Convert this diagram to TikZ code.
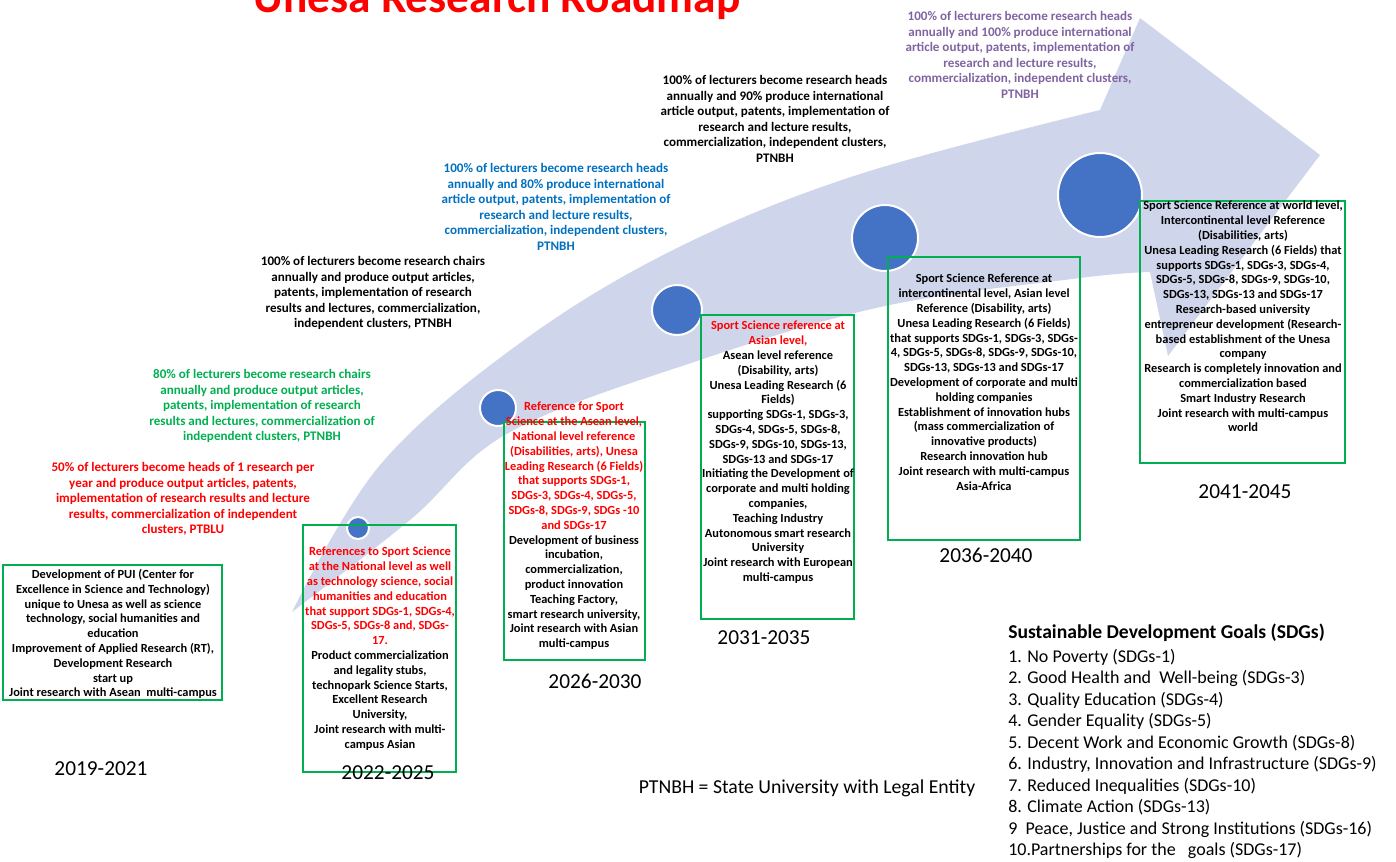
\documentclass[tikz,border=0pt]{standalone}
\usepackage{fontspec}
\setmainfont{Carlito}
\usetikzlibrary{positioning}
\definecolor{arrowfill}{RGB}{207,213,234}
\definecolor{dotblue}{RGB}{68,114,196}
\definecolor{boxgreen}{RGB}{0,176,80}
\definecolor{textred}{RGB}{255,0,0}
\definecolor{textblue}{RGB}{0,112,192}
\definecolor{textpurple}{RGB}{128,100,162}

\begin{document}
\begin{tikzpicture}[x=0.75pt,y=-0.75pt]

        % Setup the styles
        \tikzset{box style/.style={draw=boxgreen, line width=0.8pt},
                 dot style/.style={circle, fill=dotblue, draw=white,
                                   line width=1.5pt, inner sep=0pt},
                 plan style/.style={align=center, inner sep=0pt, anchor=north,
                                    font=\bfseries\fontsize{9.3}{11.1}\selectfont},
                 target style/.style={align=center, inner sep=0pt, anchor=north,
                                      font=\bfseries\fontsize{9.8}{11.7}\selectfont},
                 year style/.style={inner sep=0pt, font=\fontsize{16}{19}\selectfont},
                 goal style/.style={align=left, inner sep=0pt, anchor=north west,
                                    font=\fontsize{13.5}{16.1}\selectfont}}

        \useasboundingbox (0,0) rectangle (1396,861);

        % Draw the big curved arrow
        \fill[arrowfill]
            plot[smooth, tension=0.6] coordinates {(292,612) (380,465) (520,343)
                (675,249) (857,175) (1100,110)}
            -- (1140,18) -- (1320,155) -- (1168,356)
            -- plot[smooth, tension=0.6] coordinates {(1150,272) (1080,278)
                (885,306) (700,360) (510,432) (410,520) (292,612)}
            -- cycle;

        % Title
        \node[text=textred, anchor=base, inner sep=0pt,
              font=\bfseries\fontsize{34}{40}\selectfont] (title) at (497,12)
            {Unesa Research Roadmap};

        % Draw the milestones
        \node[dot style, minimum size=16.5pt] (d1) at (358,528) {};
        \node[dot style, minimum size=27pt]   (d2) at (498,408) {};
        \node[dot style, minimum size=37.5pt] (d3) at (677,310) {};
        \node[dot style, minimum size=49.5pt] (d4) at (885,238) {};
        \node[dot style, minimum size=63pt]   (d5) at (1100,195) {};

        % Draw the boxes
        \draw[box style] (3,565)    rectangle (222,700);
        \draw[box style] (303,525)  rectangle (456,772);
        \draw[box style] (504,422)  rectangle (645,660);
        \draw[box style] (701,315)  rectangle (854,619);
        \draw[box style] (888,257)  rectangle (1080,540);
        \draw[box style] (1140,201) rectangle (1345,463);

        % Targets above the arrow
        \node[target style, text=textred] (t1) at (183,462)
            {50\% of lecturers become heads of 1 research per\\
             year and produce output articles, patents,\\
             implementation of research results and lecture\\
             results, commercialization of independent\\
             clusters, PTBLU};
        \node[target style, text=boxgreen] (t2) at (262,369)
            {80\% of lecturers become research chairs\\
             annually and produce output articles,\\
             patents, implementation of research\\
             results and lectures, commercialization of\\
             independent clusters, PTNBH};
        \node[target style] (t3) at (373,256)
            {100\% of lecturers become research chairs\\
             annually and produce output articles,\\
             patents, implementation of research\\
             results and lectures, commercialization,\\
             independent clusters, PTNBH};
        \node[target style, text=textblue] (t4) at (556,163)
            {100\% of lecturers become research heads\\
             annually and 80\% produce international\\
             article output, patents, implementation of\\
             research and lecture results,\\
             commercialization, independent clusters,\\
             PTNBH};
        \node[target style] (t5) at (775,75)
            {100\% of lecturers become research heads\\
             annually and 90\% produce international\\
             article output, patents, implementation of\\
             research and lecture results,\\
             commercialization, independent clusters,\\
             PTNBH};
        \node[target style, text=textpurple] (t6) at (1020,11)
            {100\% of lecturers become research heads\\
             annually and 100\% produce international\\
             article output, patents, implementation of\\
             research and lecture results,\\
             commercialization, independent clusters,\\
             PTNBH};

        % Plans inside the boxes
        \node[plan style] (p1) at (113,569)
            {Development of PUI (Center for\\
             Excellence in Science and Technology)\\
             unique to Unesa as well as science\\
             technology, social humanities and\\
             education\\
             Improvement of Applied Research (RT),\\
             Development Research\\
             start up\\
             Joint research with Asean\ \ multi-campus};
        \node[plan style] (p2) at (380,547)
            {\textcolor{textred}{References to Sport Science}\\
             \textcolor{textred}{at the National level as well}\\
             \textcolor{textred}{as technology science, social}\\
             \textcolor{textred}{humanities and education}\\
             \textcolor{textred}{that support SDGs-1, SDGs-4,}\\
             \textcolor{textred}{SDGs-5, SDGs-8 and, SDGs-}\\
             \textcolor{textred}{17.}\\
             Product commercialization\\
             and legality stubs,\\
             technopark Science Starts,\\
             Excellent Research\\
             University,\\
             Joint research with multi-\\
             campus Asian};
        \node[plan style] (p3) at (574,402)
            {\textcolor{textred}{Reference for Sport}\\
             \textcolor{textred}{Science at the Asean level,}\\
             \textcolor{textred}{National level reference}\\
             \textcolor{textred}{(Disabilities, arts), Unesa}\\
             \textcolor{textred}{Leading Research (6 Fields)}\\
             \textcolor{textred}{that supports SDGs-1,}\\
             \textcolor{textred}{SDGs-3, SDGs-4, SDGs-5,}\\
             \textcolor{textred}{SDGs-8, SDGs-9, SDGs -10}\\
             \textcolor{textred}{and SDGs-17}\\
             Development of business\\
             incubation,\\
             commercialization,\\
             product innovation\\
             Teaching Factory,\\
             smart research university,\\
             Joint research with Asian\\
             multi-campus};
        \node[plan style] (p4) at (778,321)
            {\textcolor{textred}{Sport Science reference at}\\
             \textcolor{textred}{Asian level,}\\
             Asean level reference\\
             (Disability, arts)\\
             Unesa Leading Research (6\\
             Fields)\\
             supporting SDGs-1, SDGs-3,\\
             SDGs-4, SDGs-5, SDGs-8,\\
             SDGs-9, SDGs-10, SDGs-13,\\
             SDGs-13 and SDGs-17\\
             Initiating the Development of\\
             corporate and multi holding\\
             companies,\\
             Teaching Industry\\
             Autonomous smart research\\
             University\\
             Joint research with European\\
             multi-campus};
        \node[plan style] (p5) at (984,274)
            {Sport Science Reference at\\
             intercontinental level, Asian level\\
             Reference (Disability, arts)\\
             Unesa Leading Research (6 Fields)\\
             that supports SDGs-1, SDGs-3, SDGs-\\
             4, SDGs-5, SDGs-8, SDGs-9, SDGs-10,\\
             SDGs-13, SDGs-13 and SDGs-17\\
             Development of corporate and multi\\
             holding companies\\
             Establishment of innovation hubs\\
             (mass commercialization of\\
             innovative products)\\
             Research innovation hub\\
             Joint research with multi-campus\\
             Asia-Africa};
        \node[plan style] (p6) at (1243,201)
            {Sport Science Reference at world level,\\
             Intercontinental level Reference\\
             (Disabilities, arts)\\
             Unesa Leading Research (6 Fields) that\\
             supports SDGs-1, SDGs-3, SDGs-4,\\
             SDGs-5, SDGs-8, SDGs-9, SDGs-10,\\
             SDGs-13, SDGs-13 and SDGs-17\\
             Research-based university\\
             entrepreneur development (Research-\\
             based establishment of the Unesa\\
             company\\
             Research is completely innovation and\\
             commercialization based\\
             Smart Industry Research\\
             Joint research with multi-campus\\
             world};

        % Years
        \node[year style] (y1) at (101,769)  {2019-2021};
        \node[year style] (y2) at (388,773)  {2022-2025};
        \node[year style] (y3) at (595,681)  {2026-2030};
        \node[year style] (y4) at (764,638)  {2031-2035};
        \node[year style] (y5) at (986,555)  {2036-2040};
        \node[year style] (y6) at (1245,492) {2041-2045};

        % Legend
        \node[inner sep=0pt, font=\fontsize{14.8}{17.7}\selectfont] (ptnbh) at (807,788)
            {PTNBH = State University with Legal Entity};
        \node[goal style, font=\bfseries\fontsize{14.7}{17.6}\selectfont] (goals) at (1008,624)
            {Sustainable Development Goals (SDGs)};
        \node[goal style, below=5pt of goals.south west, anchor=north west] (list)
            {1. No Poverty (SDGs-1)\\
             2. Good Health and\ \ Well-being (SDGs-3)\\
             3. Quality Education (SDGs-4)\\
             4. Gender Equality (SDGs-5)\\
             5. Decent Work and Economic Growth (SDGs-8)\\
             6. Industry, Innovation and Infrastructure (SDGs-9)\\
             7. Reduced Inequalities (SDGs-10)\\
             8. Climate Action (SDGs-13)\\
             9\ \ Peace, Justice and Strong Institutions (SDGs-16)\\
             10.Partnerships for the\ \ \ goals (SDGs-17)};
\end{tikzpicture}
\end{document}
